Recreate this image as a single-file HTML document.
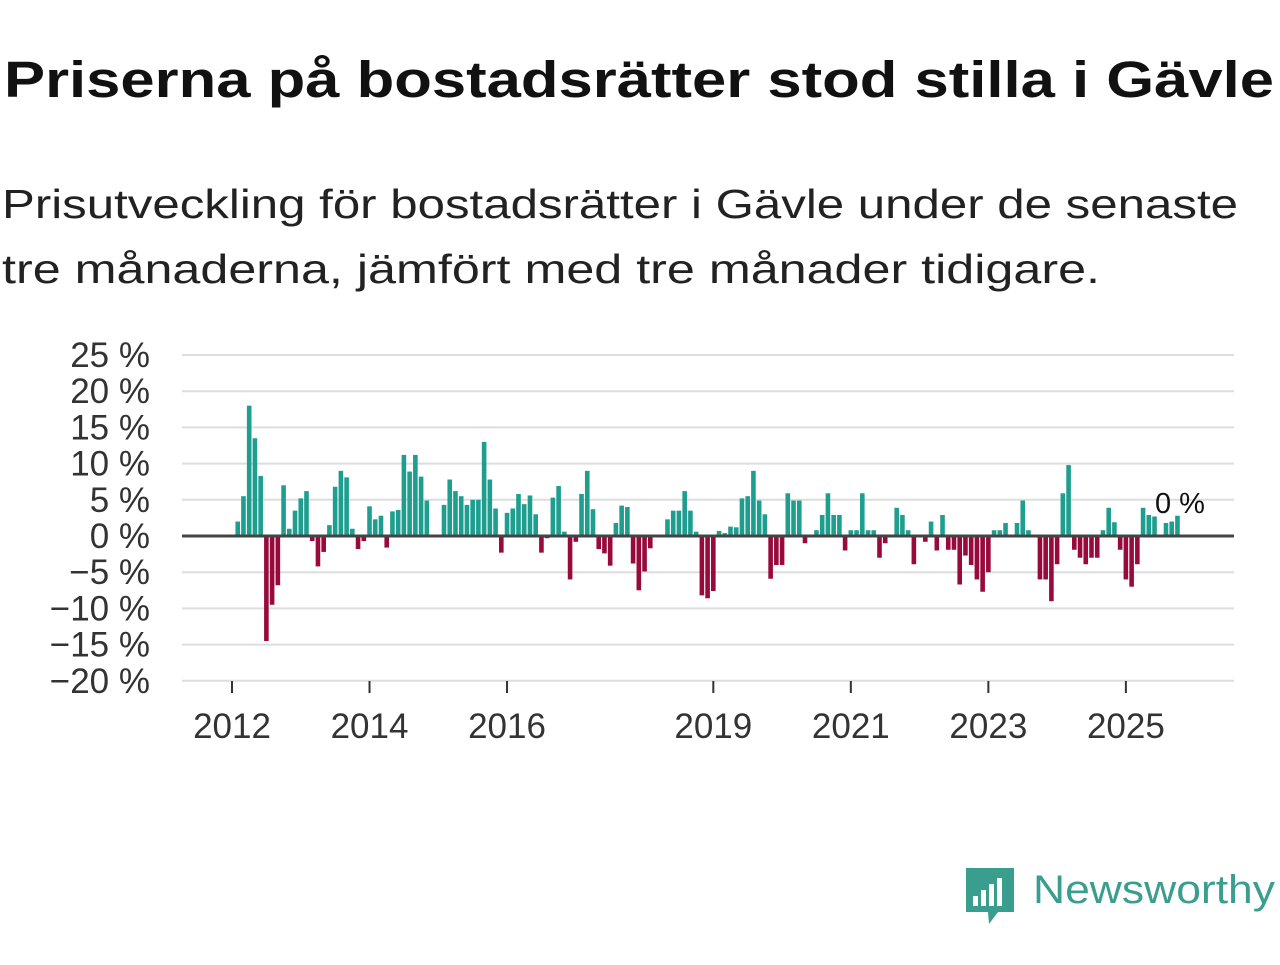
<!DOCTYPE html>
<html><head><meta charset="utf-8"><style>
body{margin:0;background:#fff;width:1280px;height:960px;overflow:hidden}
text{font-family:"Liberation Sans",sans-serif}
</style></head><body>
<svg id="chart" width="1280" height="960" xmlns="http://www.w3.org/2000/svg">
<text x="4" y="97" font-size="51" font-weight="bold" fill="#111" textLength="1270" lengthAdjust="spacingAndGlyphs">Priserna på bostadsrätter stod stilla i Gävle</text>
<text x="2" y="218" font-size="41" fill="#222" textLength="1236" lengthAdjust="spacingAndGlyphs">Prisutveckling för bostadsrätter i Gävle under de senaste</text>
<text x="2" y="283" font-size="41" fill="#222" textLength="1098" lengthAdjust="spacingAndGlyphs">tre månaderna, jämfört med tre månader tidigare.</text>
<g id="grid"></g><g id="bars"></g><g id="axes"></g>
<g>
<path d="M966 868 h48 v44 h-16 l-9 12 l-1 -12 h-22 z" fill="#3a9e8f"/>
<rect x="973" y="896" width="5" height="10" fill="#fff"/><rect x="981" y="890" width="5" height="16" fill="#fff"/><rect x="989" y="884" width="5" height="22" fill="#fff"/><rect x="997" y="878" width="5" height="28" fill="#fff"/>
<text x="1033" y="903" font-size="40" fill="#3a9e8f" textLength="242" lengthAdjust="spacingAndGlyphs">Newsworthy</text>
</g>
</svg>
<script>
const yTicks=[25,20,15,10,5,0,-5,-10,-15,-20];
const xTickYears=[2012,2014,2016,2019,2021,2023,2025];
const startMonthIndex=1;
const values=[2,5.5,18,13.5,8.3,-14.5,-9.5,-6.8,7,1,3.5,5.2,6.2,-0.7,-4.2,-2.2,1.5,6.8,9,8.1,1,-1.8,-0.7,4.1,2.3,2.8,-1.6,3.4,3.6,11.2,8.9,11.2,8.2,4.9,0,0,
4.3,7.8,6.2,5.5,4.3,5,5,13,7.8,3.8,-2.3,3.2,3.8,5.8,4.4,5.6,3,-2.3,-0.3,5.3,6.9,0.6,-6,-0.8,5.8,9,3.7,-1.8,-2.4,-4.1,1.8,4.2,4,-3.8,-7.5,-4.9,-1.7,0,0,
2.3,3.5,3.5,6.2,3.5,0.6,-8.2,-8.6,-7.6,0.7,0.4,1.3,1.2,5.2,5.5,9,4.9,3,-5.9,-4,-4,5.9,4.9,4.9,-1,0,0.8,2.9,5.9,2.9,2.9,-2,0.8,0.8,5.9,0.8,0.8,-3,-1,0,
3.9,2.9,0.8,-3.9,0,-0.8,2,-2,2.9,-1.9,-1.9,-6.7,-2.7,-4,-6,-7.7,-5,0.8,0.8,1.8,0,1.8,4.9,0.8,0,-6,-6,-9,-3.9,5.9,9.8,-1.9,-3,-3.9,-3,-3,0.8,3.9,1.9,-1.9,-6,-7,-3.9,3.9,2.9,2.7,0,1.8,2,2.8];
const NS="http://www.w3.org/2000/svg";
const y=v=>536-v*7.24;
const x=m=>232+m*5.73;
function mk(t,a,p){const e=document.createElementNS(NS,t);for(const k in a)e.setAttribute(k,a[k]);p.appendChild(e);return e;}
const grid=document.getElementById('grid'),bars=document.getElementById('bars'),axes=document.getElementById('axes');
yTicks.forEach(v=>{
 if(v!==0){const l=mk('line',{x1:182,x2:1234,y1:y(v),y2:y(v),stroke:'#ddd','stroke-width':2},grid);
 
 }
 const t=mk('text',{x:150,y:y(v)+12,'font-size':35,fill:'#333','text-anchor':'end'},axes);
 t.textContent=(v<0?'\u2212'+(-v):v)+' %';
 
 
});
values.forEach((v,i)=>{
 const m=startMonthIndex+i;
 const r=mk('rect',{x:x(m)-2.3,y:v>=0?y(v):y(0),width:4.6,height:Math.abs(y(v)-y(0)),fill:v>=0?'#1e9e8f':'#990a3c'},bars);
 
 
});
const zl=mk('line',{x1:182,x2:1234,y1:y(0),y2:y(0),stroke:'#444','stroke-width':3},axes);


xTickYears.forEach(yr=>{
 const xx=x((yr-2012)*12);
 const tk=mk('line',{x1:xx,x2:xx,y1:681,y2:693,stroke:'#333','stroke-width':2},axes);
 
 
 const t=mk('text',{x:xx,y:738,'font-size':35,fill:'#333','text-anchor':'middle'},axes);
 t.textContent=yr;
 
 
});
const lab=mk('text',{x:1155,y:513,'font-size':29,fill:'#111'},axes);
lab.textContent='0 %';


</script>
</body></html>
